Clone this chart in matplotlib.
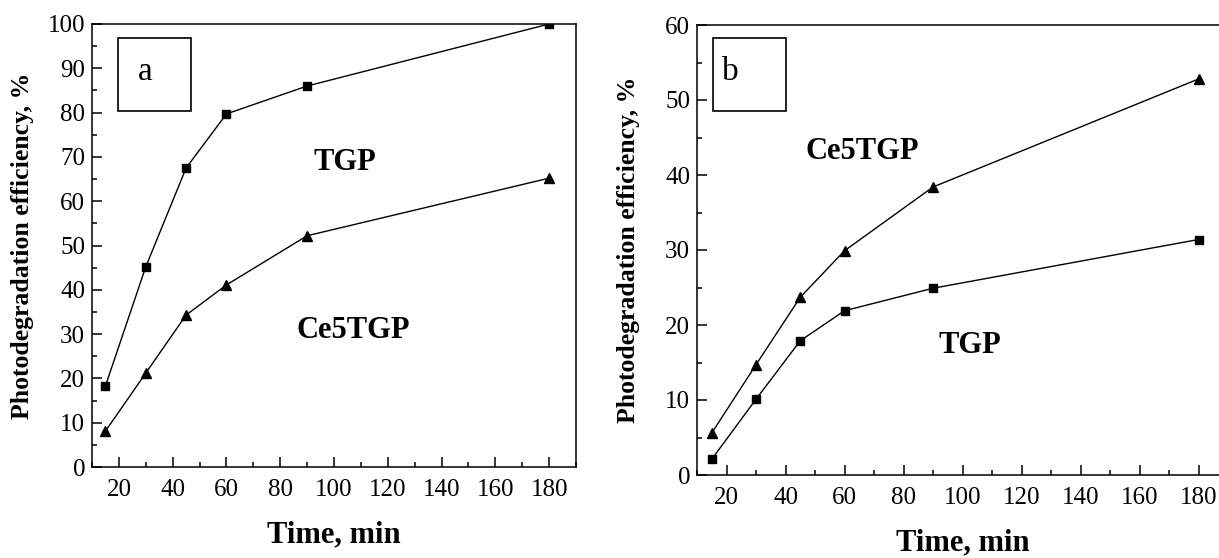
import matplotlib.pyplot as plt
from matplotlib.ticker import MultipleLocator
from matplotlib.patches import Rectangle

plt.rcParams['font.family'] = ['Liberation Serif', 'DejaVu Serif']

time_min = [15, 30, 45, 60, 90, 180]

# panel a
a_tgp = [18.3, 45.2, 67.5, 79.7, 86.0, 100.0]
a_ce5tgp = [8.1, 21.2, 34.3, 41.1, 52.2, 65.2]

# panel b
b_ce5tgp = [5.6, 14.7, 23.7, 29.9, 38.4, 52.8]
b_tgp = [2.1, 10.1, 17.9, 21.9, 24.9, 31.4]

W, H = 1219, 558
fig = plt.figure(figsize=(W / 100, H / 100), dpi=100)


def px_axes(x0, y0, x1, y1):
    return fig.add_axes([x0 / W, 1 - y1 / H, (x1 - x0) / W, (y1 - y0) / H])


def px_box(x0, y0, x1, y1):
    fig.patches.append(Rectangle((x0 / W, 1 - y1 / H), (x1 - x0) / W, (y1 - y0) / H,
                                 transform=fig.transFigure, fill=False, lw=1.2, ec='black'))


def style(ax, ymax, h_px, w_px):
    ax.set_xlim(10, 190)
    ax.set_ylim(0, ymax)
    ax.xaxis.set_major_locator(MultipleLocator(20))
    ax.xaxis.set_minor_locator(MultipleLocator(10))
    ax.yaxis.set_major_locator(MultipleLocator(10))
    ax.yaxis.set_minor_locator(MultipleLocator(5))
    ax.tick_params(which='both', direction='in', width=1.1, labelsize=18)
    ax.tick_params(axis='x', pad=9)
    ax.tick_params(axis='y', pad=5)
    ax.tick_params(which='major', length=7)
    ax.tick_params(which='minor', length=3.5)
    for s in ax.spines.values():
        s.set_linewidth(1.1)
    ax.set_xlabel("Time, min", fontsize=22, fontweight='bold')
    ax.xaxis.set_label_coords(0.5, -68 / h_px)
    ax.xaxis.label.set_va('center')
    ax.set_ylabel("Photodegradation efficiency, %", fontsize=18.5, fontweight='bold')
    ax.yaxis.set_label_coords(-69 / w_px, 0.5)
    ax.yaxis.label.set_va('center')


line_kw = dict(color='black', lw=1.0)

ax1 = px_axes(92, 24, 576, 467)
ax1.plot(time_min, a_tgp, marker='s', ms=6, **line_kw)
ax1.plot(time_min, a_ce5tgp, marker='^', ms=7.5, **line_kw)
style(ax1, 100, 443, 484)
px_box(118, 38, 191, 111)
ax1.text(145 / W, 1 - 72 / H, "a", transform=fig.transFigure, fontsize=24, ha='center', va='center')
ax1.text(104, 68.8, "TGP", fontsize=22, fontweight='bold', ha='center', va='center')
ax1.text(107, 30.9, "Ce5TGP", fontsize=22, fontweight='bold', ha='center', va='center')

ax2 = px_axes(697, 25, 1228, 475)
ax2.plot(time_min, b_ce5tgp, marker='^', ms=7.5, **line_kw)
ax2.plot(time_min, b_tgp, marker='s', ms=6, **line_kw)
style(ax2, 60, 450, 531)
px_box(713, 38, 786, 111)
ax2.text(730 / W, 1 - 72 / H, "b", transform=fig.transFigure, fontsize=24, ha='center', va='center')
ax2.text(66, 43.1, "Ce5TGP", fontsize=22, fontweight='bold', ha='center', va='center')
ax2.text(102.5, 17.3, "TGP", fontsize=22, fontweight='bold', ha='center', va='center')

fig.savefig("out.png", dpi=100)
